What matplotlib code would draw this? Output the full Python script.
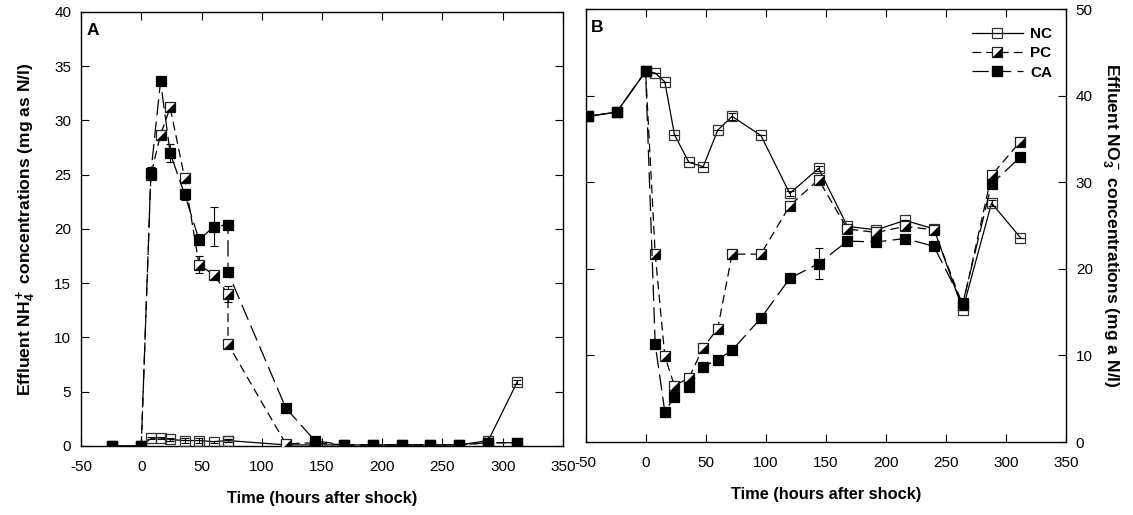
import matplotlib
matplotlib.use("Agg")
import matplotlib.pyplot as plt
from matplotlib.lines import Line2D
import numpy as np

plt.rcParams['font.family'] = ['Liberation Sans', 'DejaVu Sans']
plt.rcParams['mathtext.fontset'] = 'custom'
plt.rcParams['mathtext.rm'] = 'Liberation Sans'
plt.rcParams['mathtext.bf'] = 'Liberation Sans:bold'
plt.rcParams['mathtext.default'] = 'bf'

# ---------------- Panel A data (NH4+) ----------------
time_A = [-24, 0, 8, 16, 24, 36, 48, 60, 72, 72, 120, 144, 168, 192, 216, 240, 264, 288, 312]
nc_A = [0.0, 0.0, 0.7, 0.75, 0.6, 0.5, 0.5, 0.4, 0.5, 0.5, 0.1, 0.1, 0.1, 0.1, 0.1, 0.1, 0.1, 0.5, 5.9]
nc_A_err = [0, 0, 0.1, 0.1, 0.1, 0.2, 0.2, 0.1, 0.1, 0.1, 0, 0, 0, 0, 0, 0, 0, 0.4, 0.2]
pc_A = [0.0, 0.0, 25.0, 28.7, 31.2, 24.7, 16.7, 15.8, 14.0, 9.4, 0.2, 0.3, 0.1, 0.1, 0.1, 0.1, 0.1, 0.3, 0.3]
pc_A_err = [0, 0, 0.3, 0.3, 0.3, 0.5, 0.8, 0.2, 0.7, 0, 0, 0, 0, 0, 0, 0, 0, 0, 0]
ca_A = [0.0, 0.0, 25.2, 33.6, 27.0, 23.2, 19.0, 20.2, 20.4, 16.0, 3.5, 0.5, 0.1, 0.1, 0.1, 0.1, 0.1, 0.3, 0.3]
ca_A_err = [0, 0, 0.5, 0.2, 0.8, 0.5, 0.5, 1.8, 0.4, 0, 0, 0, 0, 0, 0, 0, 0, 0, 0]

# ---------------- Panel B data (NO3-) ----------------
time_B = [-48, -24, 0, 8, 16, 24, 36, 48, 60, 72, 96, 120, 144, 168, 192, 216, 240, 264, 288, 312]
nc_B = [37.6, 38.1, 42.8, 42.6, 41.6, 35.5, 32.3, 31.8, 36.0, 37.6, 35.4, 28.7, 31.6, 24.9, 24.5, 25.6, 24.6, 15.3, 27.6, 23.6]
nc_B_err = [0, 0, 0, 0, 0, 0, 0, 0, 0, 0.4, 0, 0.3, 0.3, 0, 0, 0, 0, 0, 0.3, 0]
pc_B = [37.6, 38.1, 42.8, 21.7, 9.9, 6.5, 7.4, 10.9, 13.1, 21.7, 21.7, 27.3, 30.3, 24.6, 24.2, 24.9, 24.5, 15.8, 30.8, 34.7]
pc_B_err = [0] * 20
ca_B = [37.6, 38.1, 42.8, 11.3, 3.5, 5.2, 6.4, 8.7, 9.5, 10.6, 14.3, 18.9, 20.6, 23.2, 23.1, 23.5, 22.6, 16.0, 29.8, 32.9]
ca_B_err = [0, 0, 0, 0, 0, 0, 0, 0, 0, 0, 0, 0, 1.8, 0, 0, 0, 0, 0, 0, 0]

series_labels = ['NC', 'PC', 'CA']
x_ticks = [-50, 0, 50, 100, 150, 200, 250, 300, 350]

MS = 7.2
LW = 0.9
PC_DASH = (7, 4)
CA_DASH = (13, 5)
TRI = [(-1, -1), (1, -1), (1, 1), (-1, -1)]

fig = plt.figure(figsize=(11.33, 5.15), dpi=100)
axA = fig.add_axes([0.0715, 0.134, 0.4254, 0.8427])
axB = fig.add_axes([0.5168, 0.1417, 0.4241, 0.8408])


def draw(ax, t, nc, nce, pc, pce, ca, cae):
    t = np.asarray(t)
    # NC
    ax.errorbar(t, nc, yerr=nce, color='black', lw=0, elinewidth=0.8, capsize=3, capthick=0.8, zorder=2)
    ax.plot(t, nc, color='black', lw=LW, marker='s', ms=MS, mfc='none', mec='#333333', mew=0.9, zorder=3)
    # PC
    ax.errorbar(t, pc, yerr=pce, color='black', lw=0, elinewidth=0.8, capsize=3, capthick=0.8, zorder=4)
    ax.plot(t, pc, color='black', lw=LW, dashes=PC_DASH, marker='s', ms=MS, mfc='white', mec='#222222', mew=0.9, zorder=5)
    ax.plot(t, pc, lw=0, marker=TRI, ms=MS, mfc='black', mec='black', mew=0, zorder=6)
    # CA
    ax.errorbar(t, ca, yerr=cae, color='black', lw=0, elinewidth=0.8, capsize=3, capthick=0.8, zorder=7)
    ax.plot(t, ca, color='black', lw=LW, dashes=CA_DASH, marker='s', ms=MS, mfc='black', mec='black', mew=0.9, zorder=8)


draw(axA, time_A, nc_A, nc_A_err, pc_A, pc_A_err, ca_A, ca_A_err)
draw(axB, time_B, nc_B, nc_B_err, pc_B, pc_B_err, ca_B, ca_B_err)

for ax in (axA, axB):
    ax.set_xlim(-50, 350)
    ax.set_xticks(x_ticks)
    ax.set_xticklabels([str(v) for v in x_ticks])
    ax.tick_params(direction='in', length=6, width=0.8, labelsize=11, top=True, right=True, left=True, pad=7)
    ax.tick_params(axis='x', pad=10)
    for s in ax.spines.values():
        s.set_linewidth(1.0)
    ax.set_xlabel('Time (hours after shock)', fontsize=11.8, fontweight='bold', labelpad=12)

axA.set_ylim(0, 40)
axA.set_yticks([0, 5, 10, 15, 20, 25, 30, 35, 40])
axA.set_ylabel('Effluent NH$_4^+$ concentrations (mg as N/l)', fontsize=12.6, fontweight='bold', labelpad=12)
axA.text(0.012, 0.975, 'A', transform=axA.transAxes, fontsize=12.5, fontweight='bold', va='top', ha='left')

axB.set_ylim(0, 50)
axB.set_yticks([0, 10, 20, 30, 40, 50])
axB.yaxis.tick_right()
axB.tick_params(axis='y', left=True, right=True, labelleft=False, labelright=True)
axB.yaxis.set_label_position('right')
axB.set_ylabel('Effluent NO$_3^-$ concentrations (mg a N/l)', fontsize=12.6, fontweight='bold', rotation=270, labelpad=20)
axB.text(0.012, 0.975, 'B', transform=axB.transAxes, fontsize=12.5, fontweight='bold', va='top', ha='left')

h_nc = Line2D([], [], color='black', lw=LW, marker='s', ms=MS, mfc='none', mec='#333333', mew=0.9)
h_pc1 = Line2D([], [], color='black', lw=LW, dashes=PC_DASH, marker='s', ms=MS, mfc='white', mec='#222222', mew=0.9)
h_pc2 = Line2D([], [], lw=0, marker=TRI, ms=MS, mfc='black', mew=0)
h_ca = Line2D([], [], color='black', lw=LW, dashes=CA_DASH, marker='s', ms=MS, mfc='black', mec='black')
leg = axB.legend([h_nc, (h_pc1, h_pc2), h_ca], series_labels, loc='upper right',
                 bbox_to_anchor=(1.0, 0.99), frameon=False, handlelength=3.3,
                 prop={'weight': 'bold', 'size': 11}, labelspacing=0.35, handletextpad=0.5)

fig.savefig('out.png', dpi=100)
